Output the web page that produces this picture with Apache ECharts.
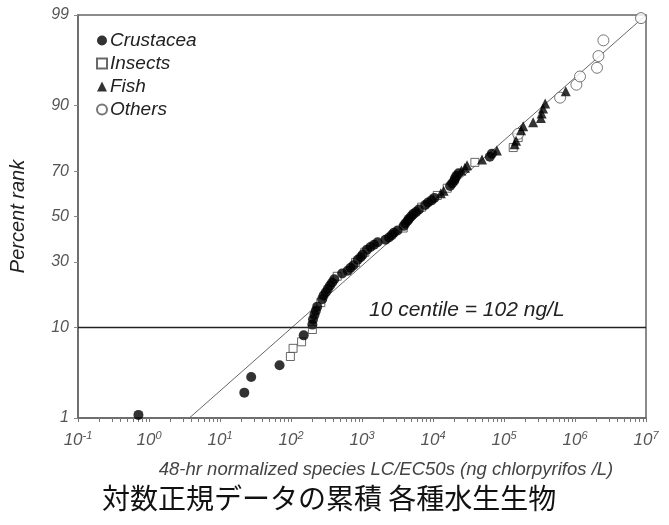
<!DOCTYPE html>
<html>
<head>
<meta charset="utf-8">
<script src="https://cdn.jsdelivr.net/npm/echarts@6/dist/echarts.min.js"></script>
<style>
html,body{margin:0;padding:0;background:#fff;}
#c{width:669px;height:525px;}
</style>
</head>
<body>
<div id="c"></div>
<script>
// ---- data ----
var crustaceaX = [0.71, 22, 27.5, 69, 151, 200, 204, 214, 224, 234, 275, 288, 309, 331, 355, 380, 407, 525, 631, 692, 759, 871, 955, 1023, 1175, 1318, 1479, 1660, 2138, 2399, 2630, 2818, 3162, 3890, 4074, 4365, 4571, 4898, 5248, 5754, 6310, 7762, 8511, 9550, 10470, 17380, 18620, 19950, 20420, 21380, 22910, 63100, 67600];
var crustaceaP = [1.1, 2.1, 3.2, 4.3, 8.5, 10.6, 11.7, 12.8, 13.8, 14.9, 17.0, 18.1, 19.1, 20.2, 21.3, 22.3, 23.4, 25.5, 26.6, 27.7, 28.7, 30.9, 31.9, 33.0, 35.1, 36.2, 37.2, 38.3, 39.4, 40.4, 41.5, 42.6, 43.6, 45.7, 46.8, 47.9, 48.9, 50.0, 51.1, 52.1, 53.2, 55.3, 56.4, 57.4, 58.5, 63.8, 64.9, 66.0, 67.0, 68.1, 69.1, 75.5, 76.6];
var insectsX = [98, 107, 141, 200, 263, 447, 813, 1096, 3802, 6918, 11480, 15850, 38900, 134900, 158500];
var insectsP = [5.3, 6.4, 7.4, 9.6, 16.0, 24.5, 29.8, 34.0, 44.7, 54.3, 59.6, 62.8, 73.4, 78.7, 81.9];
var fishX = [12880, 14130, 25120, 28180, 30200, 48980, 79430, 141250, 147900, 173800, 186200, 257000, 331000, 338800, 354800, 380200, 741300];
var fishP = [60.6, 61.7, 70.2, 71.3, 72.3, 74.5, 77.7, 79.8, 80.9, 84.0, 85.1, 86.2, 87.2, 88.3, 89.4, 90.4, 92.6];
var othersX = [158500, 616600, 1047000, 1175000, 2042000, 2138000, 2512000, 8511000];
var othersP = [83.0, 91.5, 93.6, 94.7, 95.7, 96.8, 97.9, 98.9];
var fitLineX = [3.7, 10000000];
var fitLineP = [1, 99];
var centileX = [0.1, 10000000];
var centileP = [10, 10];
var yTickLabels = [1, 10, 30, 50, 70, 90, 99];
var xTickExponents = [-1, 0, 1, 2, 3, 4, 5, 6, 7];
var legendNames = ['Crustacea', 'Insects', 'Fish', 'Others'];

// ---- probability (normal quantile) scale helper ----
function probit(p) {
  var a = [-3.969683028665376e+01, 2.209460984245205e+02, -2.759285104469687e+02, 1.383577518672690e+02, -3.066479806614716e+01, 2.506628277459239e+00];
  var b = [-5.447609879822406e+01, 1.615858368580409e+02, -1.556989798598866e+02, 6.680131188771972e+01, -1.328068155288572e+01];
  var c = [-7.784894002430293e-03, -3.223964580411365e-01, -2.400758277161838e+00, -2.549732539343734e+00, 4.374664141464968e+00, 2.938163982698783e+00];
  var d = [7.784695709041462e-03, 3.224671290700398e-01, 2.445134137142996e+00, 3.754408661907416e+00];
  var pl = 0.02425, q, r;
  if (p < pl) {
    q = Math.sqrt(-2 * Math.log(p));
    return (((((c[0]*q+c[1])*q+c[2])*q+c[3])*q+c[4])*q+c[5]) / ((((d[0]*q+d[1])*q+d[2])*q+d[3])*q+1);
  } else if (p <= 1 - pl) {
    q = p - 0.5; r = q*q;
    return (((((a[0]*r+a[1])*r+a[2])*r+a[3])*r+a[4])*r+a[5])*q / (((((b[0]*r+b[1])*r+b[2])*r+b[3])*r+b[4])*r+1);
  } else {
    q = Math.sqrt(-2 * Math.log(1 - p));
    return -(((((c[0]*q+c[1])*q+c[2])*q+c[3])*q+c[4])*q+c[5]) / ((((d[0]*q+d[1])*q+d[2])*q+d[3])*q+1);
  }
}
function pz(pct) { return probit(pct / 100); }
function pairs(xs, ps) { return xs.map(function (x, i) { return [x, pz(ps[i])]; }); }

var yTickVals = yTickLabels.map(pz);
var yLabelMap = {};
yTickVals.forEach(function (v, i) { yLabelMap[v.toFixed(4)] = String(yTickLabels[i]); });

var xMajor = xTickExponents.map(function (e) { return Math.pow(10, e); });
var xMinor = [];
for (var e = -1; e < 7; e++) {
  for (var k = 1; k <= 9; k++) xMinor.push(k * Math.pow(10, e));
}
xMinor.push(1e7);

var font = 'Liberation Sans, Arial, sans-serif';

var chart = echarts.init(document.getElementById('c'), null, { renderer: 'canvas' });
chart.setOption({
  animation: false,
  backgroundColor: '#fff',
  grid: { left: 78, right: 23, top: 15, bottom: 107, show: true, borderColor: '#666', borderWidth: 1.5, containLabel: false },
  legend: {
    orient: 'vertical', left: 91, top: 26, itemGap: 4, itemWidth: 10, itemHeight: 10,
    textStyle: { fontFamily: font, fontStyle: 'italic', fontSize: 19, color: '#222', padding: [0, 0, 0, -2] },
    data: legendNames
  },
  xAxis: {
    type: 'log', logBase: 10, min: 0.1, max: 1e7,
    name: '48-hr normalized species LC/EC50s (ng chlorpyrifos /L)',
    nameLocation: 'middle', nameGap: 42,
    nameTextStyle: { fontFamily: font, fontStyle: 'italic', fontSize: 18.5, color: '#444', padding: [0, 0, 0, 48] },
    axisLine: { show: true, onZero: false, lineStyle: { color: '#666', width: 1.5 } },
    axisTick: { show: true, inside: false, length: 4, customValues: xMinor, lineStyle: { color: '#777' } },
    minorTick: { show: false },
    splitLine: { show: false },
    axisLabel: {
      show: true, margin: 12, customValues: xMajor,
      formatter: function (v) {
        var ex = Math.round(Math.log10(v));
        return '{b|10}{s|' + ex + '}';
      },
      rich: {
        b: { fontFamily: font, fontStyle: 'italic', fontSize: 17, color: '#555' },
        s: { fontFamily: font, fontStyle: 'italic', fontSize: 11, color: '#555', verticalAlign: 'top', padding: [0, 0, 9, 0] }
      }
    }
  },
  yAxis: {
    type: 'value', min: pz(1), max: pz(99),
    name: 'Percent rank', nameLocation: 'middle', nameGap: 50, nameRotate: 90,
    nameTextStyle: { fontFamily: font, fontStyle: 'italic', fontSize: 20, color: '#222' },
    axisLine: { show: true, onZero: false, lineStyle: { color: '#666', width: 1.5 } },
    axisTick: { show: true, length: 4, customValues: yTickVals, lineStyle: { color: '#888' } },
    splitLine: { show: false },
    axisLabel: {
      show: true, margin: 9, customValues: yTickVals,
      fontFamily: font, fontStyle: 'italic', fontSize: 16, color: '#555',
      formatter: function (v) { return yLabelMap[v.toFixed(4)] || ''; }
    }
  },
  graphic: [{
    type: 'text', left: 369, top: 300,
    style: { text: '10 centile = 102 ng/L', font: 'italic 21px ' + font, fill: '#222' }
  }, {
    type: 'text', left: 102, top: 484,
    style: { text: '対数正規データの累積 各種水生生物', font: '28px "Noto Sans CJK JP"', fill: '#111' }
  }],
  series: [
    { name: 'fit', type: 'line', data: pairs(fitLineX, fitLineP), symbol: 'none', lineStyle: { color: '#666', width: 1 }, silent: true, z: 1 },
    { name: 'centile', type: 'line', data: pairs(centileX, centileP), symbol: 'none', lineStyle: { color: '#222', width: 1.3 }, silent: true, z: 1 },
    { name: 'Crustacea', type: 'scatter', data: pairs(crustaceaX, crustaceaP), symbol: 'circle', symbolSize: 10, itemStyle: { color: '#000' }, z: 5 },
    { name: 'Insects', type: 'scatter', data: pairs(insectsX, insectsP), symbol: 'rect', symbolSize: 8, itemStyle: { color: '#fff', borderColor: '#444', borderWidth: 1 }, z: 4 },
    { name: 'Fish', type: 'scatter', data: pairs(fishX, fishP), symbol: 'triangle', symbolSize: 10, itemStyle: { color: '#000' }, z: 5 },
    { name: 'Others', type: 'scatter', data: pairs(othersX, othersP), symbol: 'circle', symbolSize: 11, itemStyle: { color: '#fff', borderColor: '#555', borderWidth: 1 }, z: 4 }
  ]
});
</script>
</body>
</html>
